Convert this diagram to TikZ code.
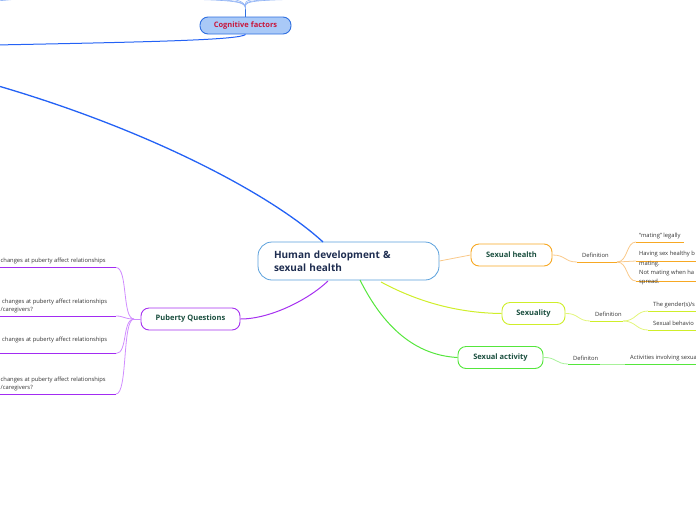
\documentclass[tikz,border=0pt]{standalone}
\usepackage{fontspec}
\setmainfont{Open Sans}
\definecolor{cogfill}{HTML}{A9C9F7}
\definecolor{cogborder}{HTML}{2F6FE0}
\definecolor{cogtext}{HTML}{C8173C}
\definecolor{bluec}{HTML}{2462F5}
\definecolor{bluelight}{HTML}{8FB2F5}
\definecolor{rootborder}{HTML}{5AA0DC}
\definecolor{navy}{HTML}{1E2D50}
\definecolor{tgreen}{HTML}{1B4F3F}
\definecolor{txtgray}{HTML}{333333}
\definecolor{orangec}{HTML}{F7A823}
\definecolor{orangel}{HTML}{F9C98A}
\definecolor{limec}{HTML}{CFEE2A}
\definecolor{limel}{HTML}{E2F57A}
\definecolor{greenc}{HTML}{55E63C}
\definecolor{greenl}{HTML}{A8F29A}
\definecolor{purplec}{HTML}{A630F0}
\definecolor{purpled}{HTML}{A22CF2}
\definecolor{purplel}{HTML}{D08CFF}
\begin{document}
\begin{tikzpicture}[x=1pt,y=-1pt,
  topic/.style={draw, rounded corners=8pt, line width=0.9pt, fill=white, minimum height=22pt, inner sep=0pt, font=\bfseries\fontsize{7.5}{9}\selectfont, text=tgreen},
  rootbox/.style={draw=rootborder, line width=0.8pt, rounded corners=14pt, fill=white, minimum width=181pt, minimum height=38pt, text width=149pt, align=left, inner xsep=16pt, inner ysep=0pt, font=\bfseries\fontsize{10}{13}\selectfont, text=navy},
  small/.style={font=\fontsize{5.8}{9.5}\selectfont, text=txtgray, inner sep=0pt, anchor=west, align=left},
  conn/.style={line width=0.8pt},
  uline/.style={line width=1pt}]
\useasboundingbox (0,0) rectangle (696,520);

% nodes
\node[topic, draw=cogborder, fill=cogfill, text=cogtext, minimum width=91pt, minimum height=17pt] (cog) at (245.5,25.5) {Cognitive factors};
\node[rootbox] (root) at (348.5,261) {Human development \&\\sexual health};
\node[topic, draw=orangec, minimum width=81pt] (sh) at (511.5,255) {Sexual health};
\node[topic, draw=limec, minimum width=63pt] (sx) at (533.5,313.5) {Sexuality};
\node[topic, draw=greenc, minimum width=85pt] (sa) at (500.5,357.5) {Sexual activity};
\node[topic, draw=purplec, minimum width=99pt] (pq) at (190.5,319) {Puberty Questions};

% coordinates
\coordinate (rtop) at (323,242);
\coordinate (rsx) at (381,282);
\coordinate (rsa) at (360,280);
\coordinate (rpq) at (328,281);
\coordinate (offL) at (-5,85);
\coordinate (offC) at (-5,45);
\coordinate (cogstem) at (245.5,9);

% cognitive factors fan
\draw[conn, cogborder] (cog.north) -- (cogstem);
\foreach \t in {(172,-1),(198,-1),(224,-2),(268,-2),(292,-1),(318,-1)}
  \draw[line width=0.6pt, bluelight] (cogstem) .. controls (245.5,2) and (240,0) .. \t;
\draw[line width=0.6pt, bluelight] (-5,1) .. controls (10,0) and (18,-1) .. (25,-2);
\draw[line width=1pt, bluec] (cog.south) .. controls (240,40) and (150,42) .. (offC);

% root to off page (blue)
\draw[line width=1.3pt, bluec] (rtop) .. controls (272,195) and (150,130) .. (offL);

% sexual health branch
\draw[conn, orangel] (root.east) -- (sh.west);
\coordinate (d1a) at (577,262);
\coordinate (d1b) at (617,262);
\node[small] (d1) at (582,255) {Definition};
\draw[conn, orangel] (sh.east) .. controls (566,255) and (564,262) .. (d1a);
\draw[uline, orangec] (d1a) -- (d1b);
\coordinate (l1a) at (636,242);
\coordinate (l2a) at (636,261);
\coordinate (l3a) at (636,281);
\draw[conn, orangel] (d1b) .. controls (628,262) and (626,242) .. (l1a);
\draw[conn, orangel] (d1b) -- (l2a);
\draw[conn, orangel] (d1b) .. controls (628,262) and (626,281) .. (l3a);
\draw[uline, orangec] (l1a) -- (684,242);
\draw[uline, orangec] (l2a) -- (700,261);
\draw[uline, orangec] (l3a) -- (700,281);
\node[small] (l1) at (639,235.5) {“mating” legally};
\node[small] (l2) at (639,259) {Having sex healthy b\\mating.};
\node[small] (l3) at (639,277.5) {Not mating when ha\\spread.};

% sexuality branch
\draw[line width=1pt, limec] (rsx) .. controls (420,303) and (460,313) .. (sx.west);
\coordinate (d2a) at (590,321);
\coordinate (d2b) at (623,321);
\node[small] (d2) at (595,314) {Definition};
\draw[conn, limel] (sx.east) .. controls (578,313) and (578,321) .. (d2a);
\draw[uline, limec] (d2a) -- (d2b);
\coordinate (s1a) at (648,311);
\coordinate (s2a) at (648,330);
\draw[conn, limel] (d2b) .. controls (636,321) and (636,311) .. (s1a);
\draw[conn, limel] (d2b) .. controls (636,321) and (636,330) .. (s2a);
\draw[uline, limec] (s1a) -- (700,311);
\draw[uline, limec] (s2a) -- (700,330);
\node[small] (s1) at (653,305) {The gender(s)/s};
\node[small] (s2) at (653,323.5) {Sexual behavio};

% sexual activity branch
\draw[line width=1pt, greenc] (rsa) .. controls (380,320) and (410,355) .. (sa.west);
\coordinate (d3a) at (568,364);
\coordinate (d3b) at (600,364);
\node[small] (d3) at (573,358) {Definiton};
\draw[conn, greenl] (sa.east) .. controls (556,357) and (556,364) .. (d3a);
\draw[uline, greenc] (d3a) -- (d3b);
\coordinate (a1a) at (625,364);
\draw[conn, greenl] (d3b) -- (a1a);
\draw[uline, greenc] (a1a) -- (700,364);
\node[small] (a1) at (630,357.5) {Activities involving sexua};

% puberty questions branch
\draw[line width=1pt, purplec] (rpq) .. controls (308,300) and (270,319) .. (pq.east);
\coordinate (pstem) at (134,319);
\draw[conn, purplel] (pq.west) -- (pstem);
\coordinate (p1a) at (116,267.5);
\coordinate (p2a) at (116,316);
\coordinate (p3a) at (116,353.5);
\coordinate (p4a) at (116,394);
\draw[conn, purplel] (pstem) .. controls (122,319) and (128,267.5) .. (p1a);
\draw[conn, purplel] (pstem) .. controls (124,319) and (124,316) .. (p2a);
\draw[conn, purplel] (pstem) .. controls (122,319) and (128,353.5) .. (p3a);
\draw[conn, purplel] (pstem) .. controls (122,319) and (128,394) .. (p4a);
\draw[uline, purpled] (-5,267.5) -- (p1a);
\draw[uline, purpled] (-5,316) -- (p2a);
\draw[uline, purpled] (-5,353.5) -- (p3a);
\draw[uline, purpled] (-5,394) -- (p4a);
\node[small] (p1) at (0.5,261) {changes at puberty affect relationships};
\node[small] (p2) at (2,302) {changes at puberty affect relationships};
\node[small] (p2b) at (0.5,310.5) {/caregivers?};
\node[small] (p3) at (2,340) {changes at puberty affect relationships};
\node[small] (p4) at (0.5,379.5) {changes at puberty affect relationships};
\node[small] (p4b) at (0.5,388) {/caregivers?};
\end{tikzpicture}
\end{document}
